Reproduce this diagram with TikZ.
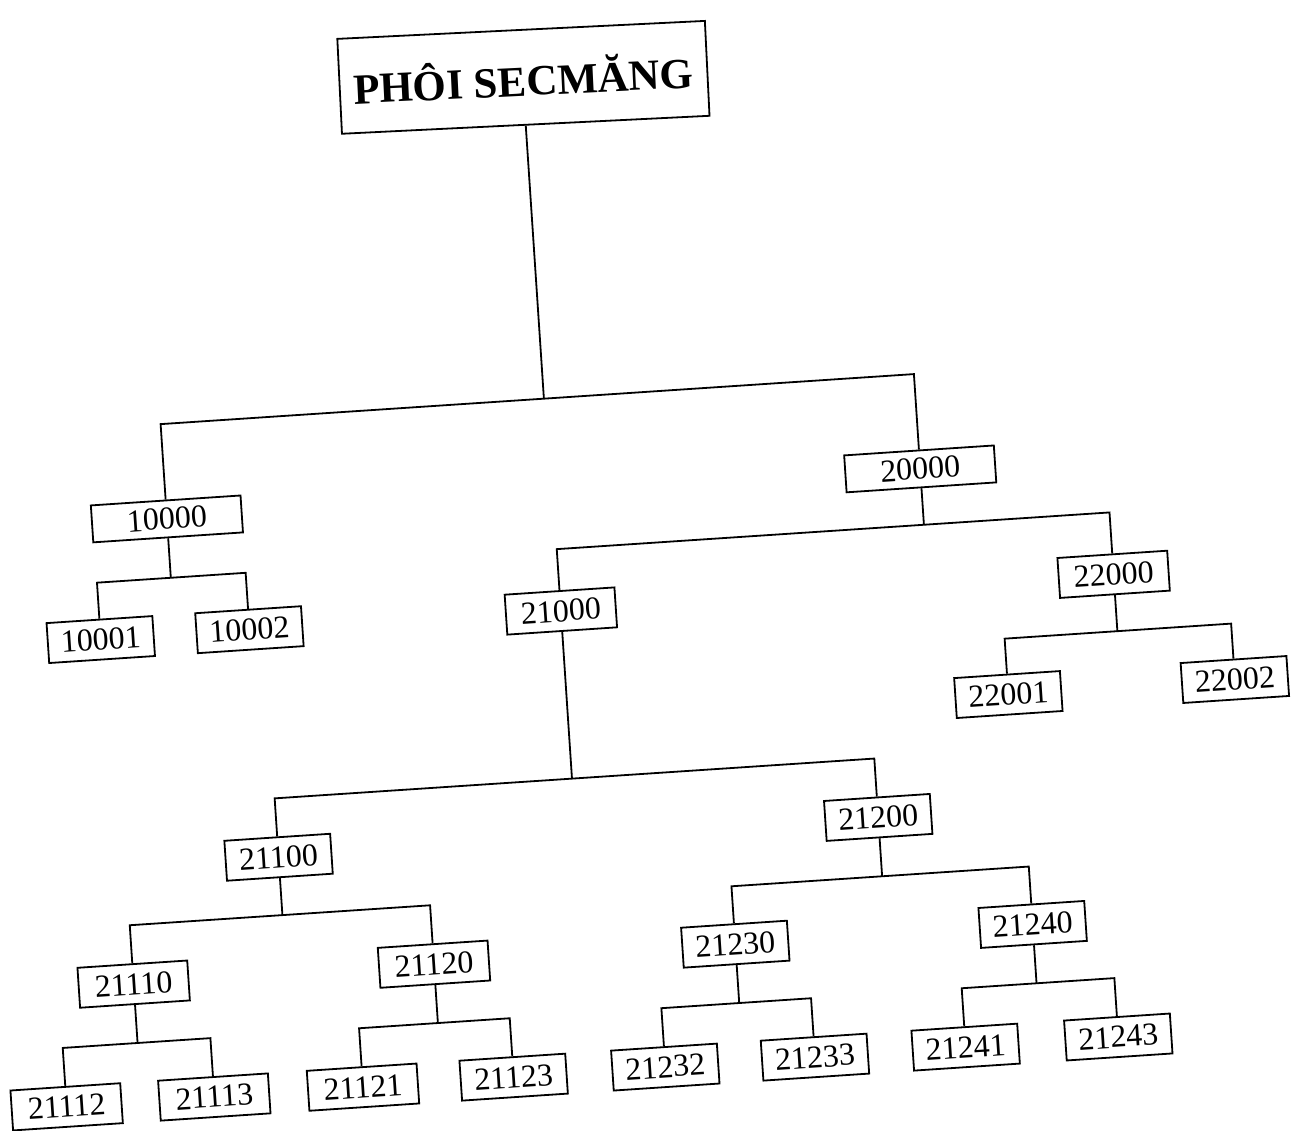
\documentclass[tikz,border=0pt]{standalone}
\usepackage{fontspec}
\setmainfont{Liberation Serif}
\begin{document}
\begin{tikzpicture}[x=1pt,y=-1pt,
  box/.style={draw, line width=1.8pt, minimum width=106pt, minimum height=40pt, inner sep=0pt, font=\fontsize{32}{32}\selectfont},
  wide/.style={box, minimum width=150pt, minimum height=37pt},
  conn/.style={line width=1.8pt}]
\useasboundingbox[fill=white] (0,0) rectangle (1301,1130);
\begin{scope}[rotate around={3.8:(650,565)}, transform shape]
% nodes
\node[draw, line width=1.8pt, minimum width=368pt, minimum height=95pt, inner sep=0pt, rotate=-1, font=\fontsize{43}{43}\selectfont\bfseries] (root) at (556,70) {PHÔI SECMĂNG};
\node[wide] (n10000) at (171,487) {10000};
\node[wide] (n20000) at (926,487) {20000};
\node[box] (n10001) at (97,603) {10001};
\node[box] (n10002) at (246,603) {10002};
\node[box, minimum width=110pt] (n21000) at (558,605) {21000};
\node[box, minimum width=110pt] (n22000) at (1112,605) {22000};
\node[box] (n22001) at (999,718) {22001};
\node[box] (n22002) at (1226,718) {22002};
\node[box] (n21100) at (260,832) {21100};
\node[box] (n21200) at (861,832) {21200};
\node[box, minimum width=110pt] (n21110) at (107,949) {21110};
\node[box, minimum width=110pt] (n21120) at (408,949) {21120};
\node[box] (n21230) at (710,949) {21230};
\node[box] (n21240) at (1008,949) {21240};
\node[box, minimum width=110pt] (n21112) at (32,1067) {21112};
\node[box, minimum width=110pt] (n21113) at (180,1067) {21113};
\node[box, minimum width=110pt] (n21121) at (329,1067) {21121};
\node[box] (n21123) at (480,1067) {21123};
\node[box] (n21232) at (632,1067) {21232};
\node[box] (n21233) at (782,1067) {21233};
\node[box] (n21241) at (933,1067) {21241};
\node[box] (n21243) at (1086,1067) {21243};
% bar levels
\coordinate (y0) at (0,392);
\coordinate (y1) at (0,546);
\coordinate (y2) at (0,543);
\coordinate (y3) at (0,662);
\coordinate (y4) at (0,773);
\coordinate (y5) at (0,890);
\coordinate (y6) at (0,891);
\coordinate (y7) at (0,1008);
% connectors
\draw[conn] (root.south) -- (root.south |- y0);
\draw[conn] (n10000.north) |- (root.south |- y0) -| (n20000.north);
\draw[conn] (n10000.south) -- (n10000.south |- y1);
\draw[conn] (n10001.north) |- (n10000.south |- y1) -| (n10002.north);
\draw[conn] (n20000.south) -- (n20000.south |- y2);
\draw[conn] (n21000.north) |- (n20000.south |- y2) -| (n22000.north);
\draw[conn] (n22000.south) -- (n22000.south |- y3);
\draw[conn] (n22001.north) |- (n22000.south |- y3) -| (n22002.north);
\draw[conn] (n21000.south) -- (n21000.south |- y4);
\draw[conn] (n21100.north) |- (n21000.south |- y4) -| (n21200.north);
\draw[conn] (n21100.south) -- (n21100.south |- y5);
\draw[conn] (n21110.north) |- (n21100.south |- y5) -| (n21120.north);
\draw[conn] (n21200.south) -- (n21200.south |- y6);
\draw[conn] (n21230.north) |- (n21200.south |- y6) -| (n21240.north);
\draw[conn] (n21110.south) -- (n21110.south |- y7);
\draw[conn] (n21112.north) |- (n21110.south |- y7) -| (n21113.north);
\draw[conn] (n21120.south) -- (n21120.south |- y7);
\draw[conn] (n21121.north) |- (n21120.south |- y7) -| (n21123.north);
\draw[conn] (n21230.south) -- (n21230.south |- y7);
\draw[conn] (n21232.north) |- (n21230.south |- y7) -| (n21233.north);
\draw[conn] (n21240.south) -- (n21240.south |- y7);
\draw[conn] (n21241.north) |- (n21240.south |- y7) -| (n21243.north);
\end{scope}
\end{tikzpicture}
\end{document}
